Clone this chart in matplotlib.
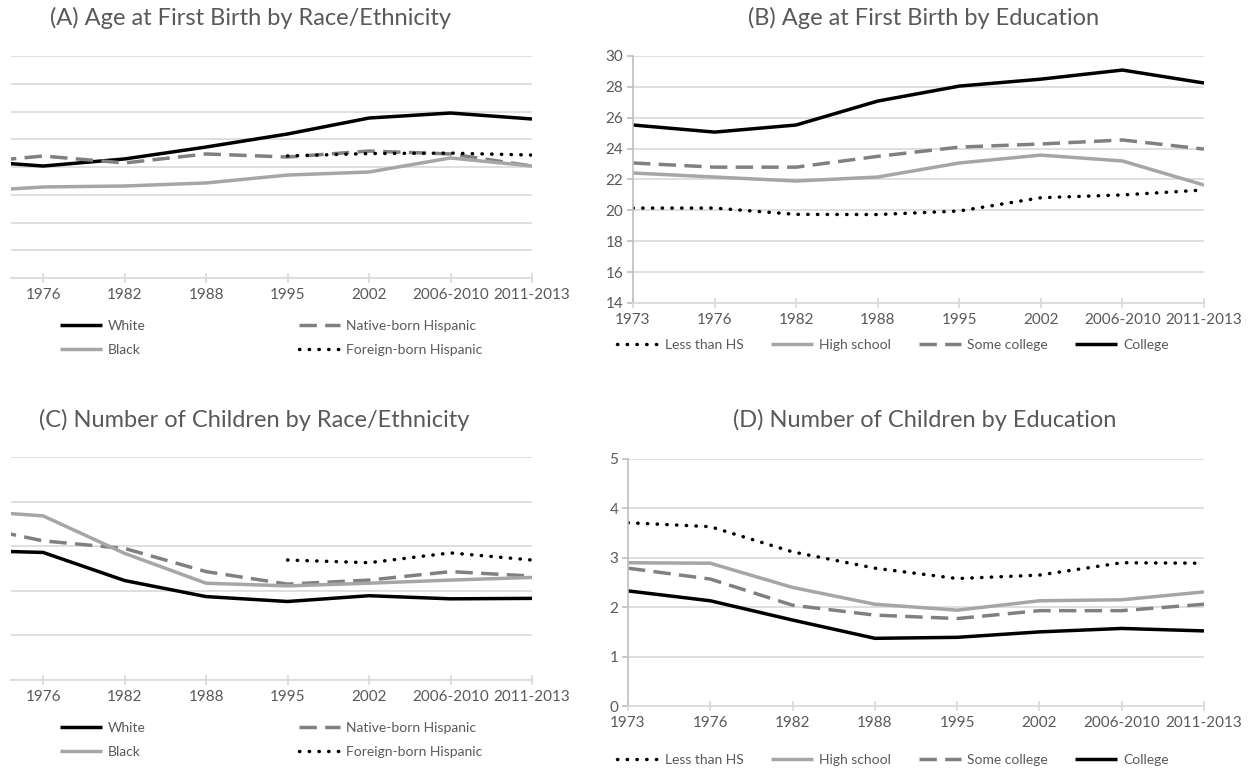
import numpy as np
import matplotlib
matplotlib.use('Agg')
import matplotlib.pyplot as plt

plt.rcParams['font.family'] = ['Lato', 'DejaVu Sans']

periods = ['1973', '1976', '1982', '1988', '1995', '2002', '2006-2010', '2011-2013']
nan = np.nan

# (A) age at first birth by race/ethnicity
afb_white = [22.5, 22.07, 22.58, 23.44, 24.38, 25.53, 25.89, 25.46]
afb_native_hisp = [22.25, 22.79, 22.29, 22.94, 22.72, 23.15, 22.94, 22.07]
afb_black = [20.2, 20.56, 20.63, 20.85, 21.42, 21.64, 22.65, 22.07]
afb_foreign_hisp = [nan, nan, nan, nan, 22.8, 22.97, 23.0, 22.86]

# (B) age at first birth by education
afb_lths = [20.15, 20.15, 19.74, 19.73, 19.96, 20.82, 21.0, 21.32]
afb_hs = [22.42, 22.16, 21.9, 22.16, 23.07, 23.58, 23.2, 21.64]
afb_somecol = [23.07, 22.8, 22.8, 23.5, 24.1, 24.3, 24.56, 23.97]
afb_college = [25.53, 25.07, 25.53, 27.08, 28.05, 28.5, 29.09, 28.25]

# (C) number of children by race/ethnicity
nc_white = [2.91, 2.86, 2.23, 1.87, 1.76, 1.89, 1.82, 1.83]
nc_native_hisp = [3.5, 3.12, 2.95, 2.43, 2.15, 2.24, 2.43, 2.33]
nc_black = [3.81, 3.68, 2.84, 2.17, 2.11, 2.17, 2.24, 2.30]
nc_foreign_hisp = [nan, nan, nan, nan, 2.69, 2.63, 2.85, 2.69]

# (D) number of children by education
nc_lths = [3.71, 3.63, 3.12, 2.79, 2.58, 2.65, 2.9, 2.89]
nc_hs = [2.9, 2.89, 2.40, 2.06, 1.94, 2.13, 2.15, 2.31]
nc_somecol = [2.79, 2.57, 2.04, 1.84, 1.77, 1.93, 1.93, 2.06]
nc_college = [2.33, 2.13, 1.74, 1.37, 1.39, 1.5, 1.57, 1.52]

TXT = '#595959'
GRID = '#d9d9d9'
LW = 2.5
solid_black = dict(color='black', lw=LW, solid_capstyle='butt')
solid_gray = dict(color='#a6a6a6', lw=LW, solid_capstyle='butt')
dashed_gray = dict(color='#808080', lw=LW, linestyle=(0, (5, 2.4)), dash_capstyle='butt')
dotted_black = dict(color='black', lw=LW, linestyle=(0, (0.1, 2.7)), dash_capstyle='round')

W, H = 1251, 779
fig = plt.figure(figsize=(W / 100, H / 100), dpi=100)


def px_axes(l, t, r, b):
    return fig.add_axes([l / W, 1 - b / H, (r - l) / W, (b - t) / H])


def style(ax, yticks, show_y, xlim, ylim):
    x = np.arange(len(periods))
    ax.set_xticks(x)
    ax.set_xticklabels(periods)
    ax.set_yticks(yticks)
    ax.set_xlim(*xlim)
    ax.set_ylim(*ylim)
    ax.grid(axis='y', color=GRID, lw=1.2)
    ax.set_axisbelow(True)
    for s in ['top', 'right']:
        ax.spines[s].set_visible(False)
    ax.spines['bottom'].set_color(GRID)
    ax.spines['bottom'].set_linewidth(1.2)
    ax.tick_params(axis='x', direction='inout', length=7, color=GRID, width=1.2,
                   labelsize=11, labelcolor=TXT, pad=4)
    if show_y:
        ax.spines['left'].set_color('#bfbfbf')
        ax.spines['left'].set_linewidth(1.2)
        ax.tick_params(axis='y', direction='out', length=4, color='#bfbfbf', width=1.2,
                       labelsize=11, labelcolor=TXT, pad=3)
    else:
        ax.spines['left'].set_visible(False)
        ax.tick_params(axis='y', left=False, labelleft=False)


x = np.arange(len(periods))
leg_kw = dict(frameon=False, fontsize=10, labelcolor=TXT, handlelength=3.0,
              handletextpad=0.45, borderpad=0, borderaxespad=0,
              bbox_transform=fig.transFigure)
TSIZE = 17

# (A)
axA = px_axes(11, 56, 532, 278)
lw_ = axA.plot(x, afb_white, **solid_black)[0]
ln_ = axA.plot(x, afb_native_hisp, **dashed_gray)[0]
lb_ = axA.plot(x, afb_black, **solid_gray)[0]
lf_ = axA.plot(x, afb_foreign_hisp, **dotted_black)[0]
style(axA, np.arange(14, 31, 2), False, (0.606, 7), (14, 30))
fig.text(251 / W, 1 - 18 / H, '(A) Age at First Birth by Race/Ethnicity',
         ha='center', va='center', fontsize=TSIZE, color=TXT)
axA.legend([lw_, lb_, ln_, lf_], ['White', 'Black', 'Native-born Hispanic', 'Foreign-born Hispanic'],
           ncol=2, loc='upper left', bbox_to_anchor=(60 / W, 1 - 320 / H),
           columnspacing=11.0, labelspacing=0.85, **leg_kw)

# (B)
axB = px_axes(633, 56, 1204, 303)
h1 = axB.plot(x, afb_lths, **dotted_black)[0]
h2 = axB.plot(x, afb_hs, **solid_gray)[0]
h3 = axB.plot(x, afb_somecol, **dashed_gray)[0]
h4 = axB.plot(x, afb_college, **solid_black)[0]
style(axB, np.arange(14, 31, 2), True, (0, 7), (14, 30))
fig.text(924 / W, 1 - 18 / H, '(B) Age at First Birth by Education',
         ha='center', va='center', fontsize=TSIZE, color=TXT)
axB.legend([h1, h2, h3, h4], ['Less than HS', 'High school', 'Some college', 'College'],
           ncol=4, loc='center', bbox_to_anchor=(893 / W, 1 - 345 / H),
           columnspacing=2.0, **leg_kw)

# (C)
axC = px_axes(11, 457, 532, 680)
cw = axC.plot(x, nc_white, **solid_black)[0]
cn = axC.plot(x, nc_native_hisp, **dashed_gray)[0]
cb = axC.plot(x, nc_black, **solid_gray)[0]
cf = axC.plot(x, nc_foreign_hisp, **dotted_black)[0]
style(axC, np.arange(0, 6, 1), False, (0.606, 7), (0, 5))
fig.text(254 / W, 1 - 420 / H, '(C) Number of Children by Race/Ethnicity',
         ha='center', va='center', fontsize=TSIZE, color=TXT)
axC.legend([cw, cb, cn, cf], ['White', 'Black', 'Native-born Hispanic', 'Foreign-born Hispanic'],
           ncol=2, loc='upper left', bbox_to_anchor=(60 / W, 1 - 722 / H),
           columnspacing=11.0, labelspacing=0.85, **leg_kw)

# (D)
axD = px_axes(628, 459, 1204, 706)
d1 = axD.plot(x, nc_lths, **dotted_black)[0]
d2 = axD.plot(x, nc_hs, **solid_gray)[0]
d3 = axD.plot(x, nc_somecol, **dashed_gray)[0]
d4 = axD.plot(x, nc_college, **solid_black)[0]
style(axD, np.arange(0, 6, 1), True, (0, 7), (0, 5))
fig.text(925 / W, 1 - 420 / H, '(D) Number of Children by Education',
         ha='center', va='center', fontsize=TSIZE, color=TXT)
axD.legend([d1, d2, d3, d4], ['Less than HS', 'High school', 'Some college', 'College'],
           ncol=4, loc='center', bbox_to_anchor=(893 / W, 1 - 760 / H),
           columnspacing=2.0, **leg_kw)

fig.savefig('out.png', dpi=100)
